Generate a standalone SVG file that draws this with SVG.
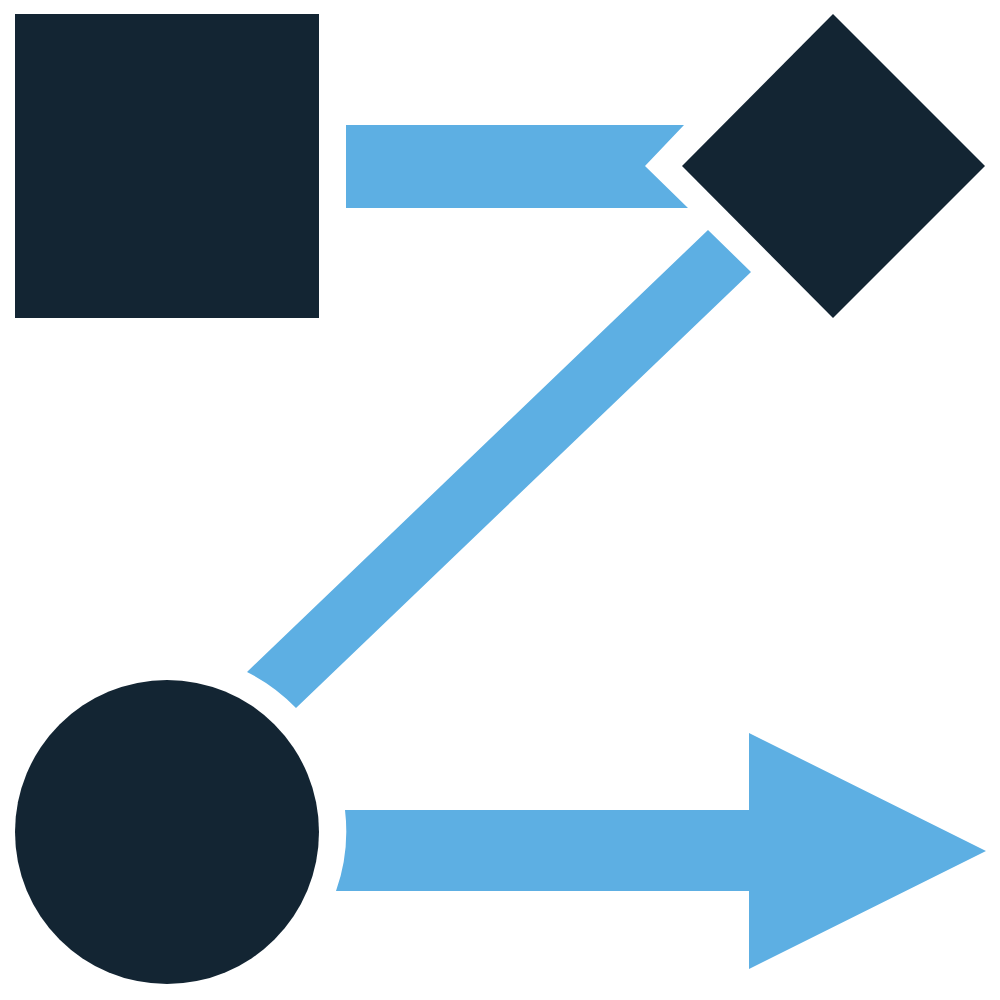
<svg xmlns="http://www.w3.org/2000/svg" width="1000" height="1000" viewBox="0 0 1000 1000">
  <style>
    .node { fill: #132533; }
    .link { fill: #5DAFE3; }
  </style>
  <rect width="1000" height="1000" fill="#ffffff"/>
  <g id="connectors">
    <path class="link" d="M346,125 L684,125 L645,166 L688,208 L346,208 Z"/>
    <path class="link" d="M708,230 L751,272 L296,708 A179,179 0 0 0 247,672 Z"/>
    <path class="link" d="M345,810 L749,810 L749,733 L986,851 L749,969 L749,891 L336,891 A179,179 0 0 0 345,810 Z"/>
  </g>
  <g id="node-square">
    <rect class="node" x="15" y="14" width="304" height="304"/>
  </g>
  <g id="node-diamond">
    <polygon class="node" points="833,14 985,166 833,318 682,166"/>
  </g>
  <g id="node-circle">
    <circle class="node" cx="167" cy="832" r="152"/>
  </g>
</svg>
